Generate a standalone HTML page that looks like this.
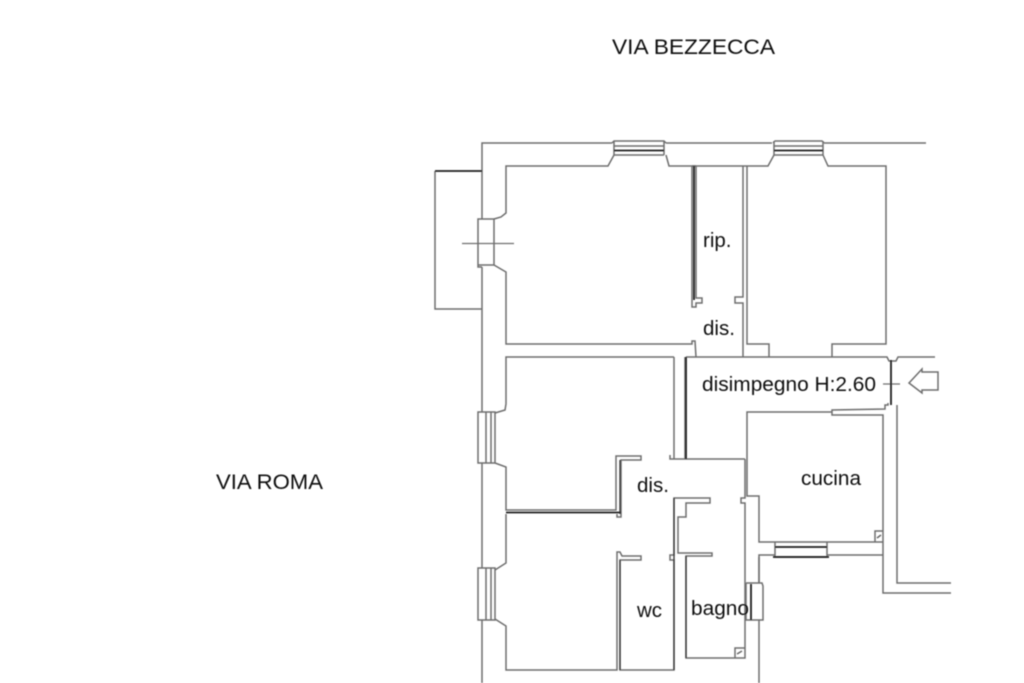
<!DOCTYPE html>
<html><head><meta charset="utf-8"><style>
html,body{margin:0;padding:0;background:#fff}
svg{display:block}
text{font-family:"Liberation Sans",sans-serif;fill:#111}
</style></head><body>
<svg width="1024" height="683" viewBox="0 0 1024 683" xmlns="http://www.w3.org/2000/svg">
<defs><filter id="b" x="-5%" y="-5%" width="110%" height="110%"><feGaussianBlur stdDeviation="0.5"/></filter></defs>
<rect width="1024" height="683" fill="#fff"/>
<g filter="url(#b)">
<g fill="none" stroke="#6e6e6e" stroke-width="1.5">
<!-- outer top wall -->
<path d="M482 219V143H612M666 143H772M824 143H926"/>
<!-- top window 1 -->
<path d="M612 143L614 141H664L666 143M614 141V155M664 141V155M614 155H664M614 146H664"/>
<path d="M773 143L775 141H822L824 143M774 141V155M823 141V155M774 155H823M774 146H823"/>
<!-- room 1 -->
<path d="M692 166H669L666 155M614 155L608 166H506V213L501 217L494 219M494 265L506 272V344H692V341H695L696 357"/>
<!-- left window 1 -->
<path d="M482 219H478V267H482M478 219H494V265H478"/>
<path d="M462 243.500H514" stroke-width="1.200"/>
<!-- balcony -->
<path d="M435 171V309H482"/>
<!-- left wall -->
<path d="M482 267V412M482 463V568M482 620V683"/>
<!-- room 2 -->
<path d="M674 357H506V404L505 410L495 413M495 463L506 467V510H616V456H641V460H621V517H617V514"/>
<path d="M478 412H495V463H478ZM486 412V463M491 412V463"/>
<!-- room 3 -->
<path d="M506 514V563L495 570M495 619L506 626V670H617V552H620L622 556H641V560H620V670H674V560H670V555H674V498H710V503H686V517H678V553H712V556H686V658H735V648H745V658H735M745 620V658"/>
<path d="M478 568H495V620H478ZM486 568V620M491 568V620"/>
<!-- rip -->
<path d="M692 166V307H696V303H702V298H696V166M692 166H696"/>
<path d="M743 166V297H735V303H743V357M747 166H692M747 166V344H769V357M832 357V344H886V166H828L823 155M774 155L768 166H747"/>
<!-- disimpegno -->
<path d="M686 357H887L889 361H896L898 357H935"/>
<path d="M883 384H900" stroke-width="1.200"/>
<path d="M909 383L922 369V372H938V390H922V393Z"/>
<!-- kitchen -->
<path d="M832 412H747V496H759V542H883V415H832V410L885 409V405H888V403M897 405V583H951M883 542V555H827M775 555H759V583M883 555V593H951"/>
<path d="M775 542V557H827V542"/>
<path d="M875 542V531H883M875 531V542"/>
<!-- corridor -->
<path d="M670 455V459H745M745 459V498H741V503H745V583"/>
<path d="M674 357V459M685 459V357"/>
<path d="M746 583H762L763 586V620H746V583M759 620V683M759 583V557M745 620V583"/>
</g>
<g fill="none" stroke="#1f1f1f" stroke-width="1.800">
<path d="M435 171H482"/>
<path d="M614 150.500H664M774 150.500H823"/>
<path d="M694 166V300M686 357V459M891 360V405"/>
<path d="M506 512.500H621"/>
<path d="M775 547H827M773 557H829"/>
<path d="M751 584V620"/>
<path d="M686 556V658M674 498V670" stroke="#333" stroke-width="1.300"/>
<path d="M620 560V670M620 460V514" stroke="#333" stroke-width="1.300"/>
</g>
<g stroke="#666" stroke-width="1.500" fill="none"><path d="M877 538L881 535M737 654L742 651"/></g>
<text x="612" y="54" font-size="21" textLength="163" lengthAdjust="spacingAndGlyphs">VIA BEZZECCA</text>
<text x="216" y="489" font-size="21" textLength="107" lengthAdjust="spacingAndGlyphs">VIA ROMA</text>
<text x="703" y="247" font-size="20.500">rip.</text>
<text x="703" y="335" font-size="20.500">dis.</text>
<text x="702" y="391" font-size="20.500" textLength="174" lengthAdjust="spacingAndGlyphs">disimpegno H:2.60</text>
<text x="801" y="485" font-size="20.500" textLength="60" lengthAdjust="spacingAndGlyphs">cucina</text>
<text x="637" y="492" font-size="20.500">dis.</text>
<text x="637" y="617" font-size="20.500">wc</text>
<text x="691" y="615" font-size="20.500" textLength="58" lengthAdjust="spacingAndGlyphs">bagno</text>
</g>
</svg>
</body></html>
